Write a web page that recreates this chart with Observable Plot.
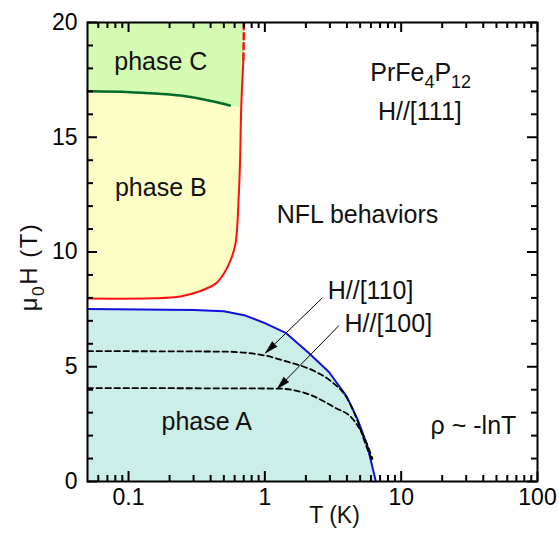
<!DOCTYPE html>
<html>
<head>
<meta charset="utf-8">
<script src="https://cdn.jsdelivr.net/npm/d3@7"></script>
<script src="https://cdn.jsdelivr.net/npm/@observablehq/plot@0.6"></script>
<style>
  body { margin: 0; background: #fff; }
  #chart svg { font-family: "Liberation Sans", Arial, Helvetica, sans-serif; }
</style>
</head>
<body>
<div id="chart"></div>
<script>
// ---- Data ----
// Phase B boundary (red), solid part
const redT = [0.05, 0.15, 0.24, 0.337, 0.434, 0.50, 0.56, 0.609, 0.644, 0.658, 0.671, 0.696];
const redH = [7.97, 7.98, 8.06, 8.30, 8.61, 9.05, 9.63, 10.36, 12.5, 14.0, 16.3, 18.4];
// Phase B boundary (red), dashed extrapolation
const redDashT = [0.696, 0.703];
const redDashH = [18.4, 20];
// Phase C lower boundary (dark green)
const greenT = [0.05, 0.103, 0.24, 0.42, 0.553];
const greenH = [17.0, 16.96, 16.82, 16.56, 16.38];
// Phase A boundary (blue), H//[111]
const blueT = [0.05, 0.3, 0.5, 0.72, 1.0, 1.42, 2.1, 2.95, 3.98, 4.78, 5.65, 6.52];
const blueH = [7.52, 7.47, 7.42, 7.23, 6.9, 6.48, 5.6, 4.77, 3.71, 2.72, 1.55, 0];
// Phase A boundary, H//[110] (dashed)
const d110T = [0.05, 0.5, 0.98, 1.46, 2.29, 3.04, 4.03, 4.78, 5.5, 6.0, 6.2];
const d110H = [5.68, 5.66, 5.5, 5.22, 4.82, 4.38, 3.6, 2.65, 1.6, 1.05, 0.85];
// Phase A boundary, H//[100] (dashed)
const d100T = [0.05, 1.23, 2.05, 3.22, 4.51, 5.34, 6.15];
const d100H = [4.07, 4.05, 3.82, 3.24, 2.66, 1.93, 1.0];
// Annotation arrows
const arrowFromT = [2.64, 3.5];
const arrowFromH = [8.0, 6.8];
const arrowToT = [1.01, 1.233];
const arrowToH = [5.6, 4.04];
// Text labels
const labelText = ["phase C", "phase B", "phase A", "NFL behaviors", "PrFe4P12", "H//[111]", "H//[110]", "H//[100]", "ρ ~ -lnT"];
const labelT = [0.1725, 0.1725, 0.3745, 4.78, 13.9, 13.7, 5.96, 8.05, 33.9];
const labelH = [18.26, 12.77, 2.60, 11.60, 17.82, 16.08, 8.32, 6.85, 2.44];
// Axis ticks
const xMajor = [0.1, 1, 10, 100];
const xMinor = [0.06, 0.07, 0.08, 0.09, 0.2, 0.3, 0.4, 0.5, 0.6, 0.7, 0.8, 0.9, 2, 3, 4, 5, 6, 7, 8, 9, 20, 30, 40, 50, 60, 70, 80, 90];
const yMajor = [0, 5, 10, 15, 20];
const yMinor = [1, 2, 3, 4, 6, 7, 8, 9, 11, 12, 13, 14, 16, 17, 18, 19];
const xDomain = [0.05, 100];
const yDomain = [0, 20];

// ---- Layout ----
const W = 559, H = 534, mL = 87, mR = 22, mT = 22, mB = 53;
const pxY = (yDomain[1] - yDomain[0]) / (H - mT - mB);
const pxX = Math.log10(xDomain[1] / xDomain[0]) / (W - mL - mR);
const fx = px => Math.pow(10, px * pxX);
const majLen = 10, minLen = 6;

// ---- Build tables ----
const pts = (T, H) => T.map((t, i) => ({T: t, H: H[i]}));
const red = pts(redT, redH);
const redDash = pts(redDashT, redDashH);
const redFull = red.concat(redDash.slice(1));
const green = pts(greenT, greenH);
const blue = pts(blueT, blueH);
const d110 = pts(d110T, d110H);
const d100 = pts(d100T, d100H);
const greenPoly = green.concat(redFull.filter(d => d.H >= 16.3), [{T: xDomain[0], H: yDomain[1]}]);
const arrows = arrowFromT.map((t, i) => {
  const dxs = Math.log10(arrowToT[i] / t) / pxX;
  const dys = (arrowFromH[i] - arrowToH[i]) / pxY;
  return {x1: t, y1: arrowFromH[i], x2: arrowToT[i], y2: arrowToH[i],
          angle: Math.atan2(dxs, -dys) * 180 / Math.PI};
});
const labels = labelText.map((s, i) => ({text: s, T: labelT[i], H: labelH[i]}));

const tickStyle = {stroke: "black", strokeWidth: 2};
const fillC = "#d5fbb3", fillB = "#fdfdc6", fillA = "#cbeee9";

const chart = Plot.plot({
  width: W, height: H,
  marginLeft: mL, marginRight: mR, marginTop: mT, marginBottom: mB,
  style: {fontFamily: '"Liberation Sans", Arial, Helvetica, sans-serif', fontSize: "23px", background: "white", color: "black"},
  x: {type: "log", domain: xDomain, ticks: xMajor, tickSize: 0, tickPadding: 7, tickFormat: d => String(d), label: null},
  y: {domain: yDomain, ticks: yMajor, tickSize: 0, tickPadding: 10, tickFormat: d => String(d), label: null},
  marks: [
    // fills
    Plot.areaX(redFull, {y: "H", x1: () => xDomain[0], x2: "T", fill: fillB, curve: "catmull-rom"}),
    Plot.line(greenPoly, {x: "T", y: "H", fill: fillC, stroke: "none", curve: "linear"}),
    Plot.areaY(blue, {x: "T", y1: () => 0, y2: "H", fill: fillA}),
    // boundaries
    Plot.line(red, {x: "T", y: "H", stroke: "#ff1010", strokeWidth: 2, curve: "catmull-rom"}),
    Plot.line(redDash, {x: "T", y: "H", stroke: "#ff1010", strokeWidth: 2.5, strokeDasharray: "6,4"}),
    Plot.line(green, {x: "T", y: "H", stroke: "#006b26", strokeWidth: 2.5, curve: "catmull-rom"}),
    Plot.line(blue, {x: "T", y: "H", stroke: "#1010e0", strokeWidth: 2}),
    Plot.line(d110, {x: "T", y: "H", stroke: "black", strokeWidth: 1.8, strokeDasharray: "5.5,3.5", curve: "monotone-x"}),
    Plot.line(d100, {x: "T", y: "H", stroke: "black", strokeWidth: 1.8, strokeDasharray: "5.5,3.5", curve: "monotone-x"}),
    // arrows: shaft + filled head
    Plot.link(arrows, {x1: "x1", y1: "y1", x2: "x2", y2: "y2", stroke: "black", strokeWidth: 1}),
    Plot.vector(arrows, {x: "x2", y: "y2", rotate: "angle", length: 13, anchor: "end", shape: "spike", r: 3.5, fill: "black", stroke: "black", strokeWidth: 0.5}),
    // labels
    Plot.text(labels, {x: "T", y: "H", text: "text", fontSize: 25, fill: "#111", textAnchor: "middle"}),
    // axis titles
    Plot.text(["T (K)"], {frameAnchor: "bottom", textAnchor: "middle", dy: 41, dx: 22, fontSize: 23, fill: "#111"}),
    Plot.text(["μ0H (T)"], {frameAnchor: "left", textAnchor: "middle", rotate: -90, dx: -58, dy: 15, fontSize: 24, fill: "#111"}),
    // inward ticks
    Plot.ruleX(xMajor, {x: d => d, y1: () => yDomain[0], y2: () => yDomain[0] + majLen * pxY, ...tickStyle}),
    Plot.ruleX(xMinor, {x: d => d, y1: () => yDomain[0], y2: () => yDomain[0] + minLen * pxY, ...tickStyle}),
    Plot.ruleX(xMajor, {x: d => d, y1: () => yDomain[1], y2: () => yDomain[1] - majLen * pxY, ...tickStyle}),
    Plot.ruleX(xMinor, {x: d => d, y1: () => yDomain[1], y2: () => yDomain[1] - minLen * pxY, ...tickStyle}),
    Plot.ruleY(yMajor, {y: d => d, x1: () => xDomain[0], x2: () => xDomain[0] * fx(majLen), ...tickStyle}),
    Plot.ruleY(yMinor, {y: d => d, x1: () => xDomain[0], x2: () => xDomain[0] * fx(minLen), ...tickStyle}),
    Plot.ruleY(yMajor, {y: d => d, x1: () => xDomain[1], x2: () => xDomain[1] / fx(majLen), ...tickStyle}),
    Plot.ruleY(yMinor, {y: d => d, x1: () => xDomain[1], x2: () => xDomain[1] / fx(minLen), ...tickStyle}),
    Plot.frame({stroke: "black", strokeWidth: 2})
  ]
});

// subscripts
function subscript(textEl, parts, size) {
  textEl.textContent = "";
  const shift = size * 0.3;
  let low = false;
  for (const [s, sub] of parts) {
    const ts = document.createElementNS("http://www.w3.org/2000/svg", "tspan");
    ts.textContent = s;
    if (sub && !low) { ts.setAttribute("dy", shift); low = true; }
    else if (!sub && low) { ts.setAttribute("dy", -shift); low = false; }
    if (sub) ts.setAttribute("font-size", size * 0.72);
    textEl.appendChild(ts);
  }
}
chart.querySelectorAll("text").forEach(t => {
  if (t.textContent === "PrFe4P12") subscript(t, [["PrFe", false], ["4", true], ["P", false], ["12", true]], 25);
  else if (t.textContent === "μ0H (T)") {
    subscript(t, [["μ", false], ["0", true], ["H (T)", false]], 24);
    t.setAttribute("letter-spacing", "1.5");
  }
});

document.getElementById("chart").appendChild(chart);
</script>
</body>
</html>
